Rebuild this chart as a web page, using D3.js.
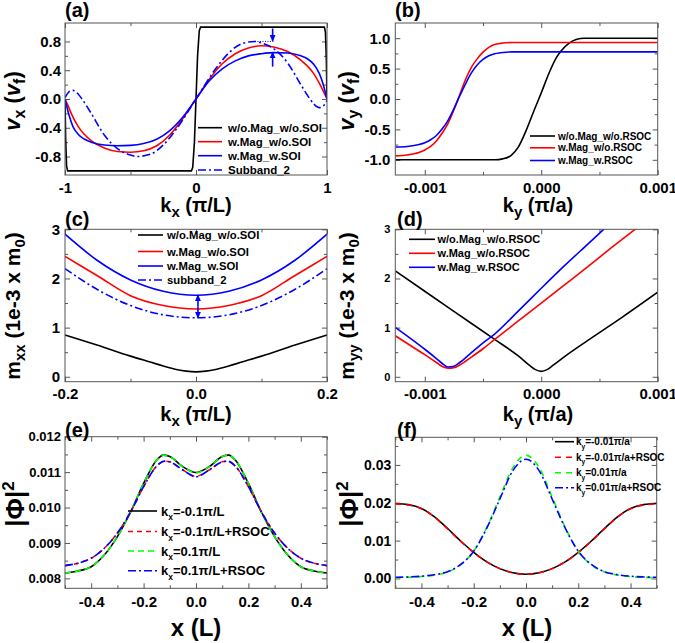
<!DOCTYPE html>
<html><head><meta charset="utf-8">
<script src="https://cdn.jsdelivr.net/npm/d3@7"></script>
<style>
body{margin:0;background:#fff}
svg{font-family:"Liberation Sans",Arial,sans-serif;font-weight:bold}
</style>
</head><body>
<svg id="c" width="675" height="643"></svg>
<script>
// ---------- DATA ----------
// (a) v_x vs k_x
const aXTicks = [-1, 0, 1], aXMinor = [-0.5, 0.5];
const aYTicks = [-0.8, -0.4, 0, 0.4, 0.8], aYMinor = [-0.6, -0.2, 0.2, 0.6];
const aBlack = [[-1,0],[-0.995,-0.55],[-0.988,-0.93],[-0.98,-1],[-0.035,-1],[-0.025,-0.95],[-0.012,-0.6],[0,0],[0.012,0.6],[0.025,0.95],[0.035,1],[0.98,1],[0.988,0.93],[0.995,0.55],[1,0]];
const aRed = [[-1,0],[-0.975,-0.1],[-0.95,-0.21],[-0.9,-0.38],[-0.8,-0.58],[-0.7,-0.68],[-0.6,-0.73],[-0.5,-0.74],[-0.4,-0.72],[-0.3,-0.65],[-0.2,-0.5],[-0.1,-0.27],[0,0],[0.1,0.27],[0.2,0.49],[0.3,0.63],[0.4,0.71],[0.5,0.74],[0.6,0.72],[0.7,0.66],[0.8,0.54],[0.9,0.35],[0.95,0.19],[1,0]];
const aBlue = [[-1,0],[-0.97,-0.22],[-0.94,-0.38],[-0.9,-0.49],[-0.85,-0.56],[-0.8,-0.6],[-0.7,-0.64],[-0.6,-0.65],[-0.5,-0.645],[-0.4,-0.62],[-0.3,-0.56],[-0.2,-0.44],[-0.1,-0.25],[0,0],[0.1,0.25],[0.2,0.42],[0.3,0.53],[0.4,0.6],[0.5,0.63],[0.6,0.645],[0.7,0.64],[0.8,0.6],[0.85,0.56],[0.9,0.48],[0.94,0.36],[0.97,0.21],[1,0]];
const aSub2 = [[-1,0.02],[-0.97,0.1],[-0.94,0.12],[-0.9,0.07],[-0.87,0],[-0.8,-0.2],[-0.7,-0.5],[-0.6,-0.69],[-0.5,-0.78],[-0.45,-0.8],[-0.35,-0.77],[-0.25,-0.64],[-0.15,-0.42],[0,0],[0.15,0.42],[0.25,0.64],[0.35,0.77],[0.45,0.8],[0.5,0.78],[0.6,0.69],[0.7,0.5],[0.8,0.2],[0.87,0],[0.9,-0.07],[0.94,-0.12],[0.97,-0.1],[1,-0.02]];
const aArrowK = 0.585, aArrowDown = [0.98, 0.81], aArrowUp = [0.45, 0.65], aDotted = [[0.45,0.8],[0.6,0.8]];
const aLegend = ["w/o.Mag_w/o.SOI","w.Mag_w/o.SOI","w.Mag_w.SOI","Subband_2"];

// (b) v_y vs k_y
const bXTicks = [-0.001, 0, 0.001], bXMinor = [-0.0005, 0.0005];
const bYTicks = [-1, -0.5, 0, 0.5, 1], bYMinor = [-0.75, -0.25, 0.25, 0.75];
const bBlack = [[-0.00125,-1],[-0.0004,-1],[-0.00033,-0.985],[-0.00026,-0.93],[-0.0002,-0.8],[-0.00013,-0.52],[-0.00006,-0.18],[0,0.1],[0.00007,0.44],[0.00013,0.68],[0.00017,0.79],[0.00024,0.92],[0.0003,0.98],[0.00037,1],[0.001,1]];
const bRed = [[-0.00125,-0.935],[-0.00115,-0.92],[-0.00105,-0.88],[-0.001,-0.84],[-0.00095,-0.78],[-0.0009,-0.69],[-0.00085,-0.56],[-0.0008,-0.4],[-0.00075,-0.18],[-0.0007,0.07],[-0.00065,0.32],[-0.0006,0.52],[-0.00055,0.66],[-0.0005,0.77],[-0.00045,0.85],[-0.0004,0.895],[-0.00035,0.915],[-0.0003,0.925],[-0.00025,0.93],[0.001,0.93]];
const bBlue = [[-0.00125,-0.79],[-0.00115,-0.78],[-0.00105,-0.75],[-0.001,-0.72],[-0.00095,-0.67],[-0.0009,-0.6],[-0.00085,-0.49],[-0.0008,-0.35],[-0.00075,-0.16],[-0.0007,0.05],[-0.00065,0.25],[-0.0006,0.43],[-0.00055,0.56],[-0.0005,0.65],[-0.00045,0.71],[-0.0004,0.745],[-0.00035,0.76],[-0.0003,0.77],[-0.00025,0.775],[0.001,0.775]];
const bLegend = ["w/o.Mag_w/o.RSOC","w.Mag_w/o.RSOC","w.Mag_w.RSOC"];

// (c) m_xx vs k_x
const cXTicks = [-0.2, 0, 0.2], cXMinor = [-0.1, 0.1];
const cYTicks = [0, 1, 2, 3], cYMinor = [0.5, 1.5, 2.5];
const cBlack = [[-0.2,0.85],[-0.15,0.64],[-0.1,0.42],[-0.07,0.3],[-0.05,0.22],[-0.03,0.15],[-0.015,0.115],[0,0.1],[0.015,0.115],[0.03,0.15],[0.05,0.22],[0.07,0.3],[0.1,0.42],[0.15,0.64],[0.2,0.85]];
const cRed = [[-0.2,2.45],[-0.15,2.05],[-0.1,1.65],[-0.05,1.45],[0,1.38],[0.05,1.45],[0.1,1.65],[0.15,2.05],[0.2,2.45]];
const cBlue = [[-0.2,2.9],[-0.15,2.36],[-0.1,1.97],[-0.05,1.74],[0,1.66],[0.05,1.74],[0.1,1.97],[0.15,2.36],[0.2,2.9]];
const cSub2 = [[-0.2,2.2],[-0.15,1.77],[-0.1,1.45],[-0.05,1.26],[0,1.2],[0.05,1.26],[0.1,1.45],[0.15,1.77],[0.2,2.2]];
const cArrowK = 0.003, cArrowRange = [1.66, 1.2];
const cLegend = ["w/o.Mag_w/o.SOI","w.Mag_w/o.SOI","w.Mag_w.SOI","subband_2"];

// (d) m_yy vs k_y
const dXTicks = [-0.001, 0, 0.001], dXMinor = [-0.0005, 0.0005];
const dYTicks = [0, 1, 2, 3], dYMinor = [0.5, 1.5, 2.5];
const dBlack = [[-0.00125,2.15],[-0.001,1.74],[-0.0007,1.25],[-0.0004,0.76],[-0.0002,0.43],[-0.0001,0.23],[-0.00005,0.145],[0,0.11],[0.00005,0.145],[0.0001,0.23],[0.0002,0.41],[0.0004,0.74],[0.0007,1.22],[0.001,1.72]];
const dRed = [[-0.00125,0.83],[-0.0011,0.6],[-0.001,0.45],[-0.0009,0.29],[-0.00085,0.21],[-0.0008,0.175],[-0.00075,0.185],[-0.0007,0.24],[-0.0006,0.4],[-0.0005,0.57],[-0.0004,0.76],[-0.0002,1.13],[0,1.5],[0.0002,1.87],[0.0004,2.24],[0.0006,2.62],[0.0008,2.99],[0.00085,3.08]];
const dBlue = [[-0.00125,1.0],[-0.0011,0.74],[-0.001,0.56],[-0.0009,0.37],[-0.00085,0.27],[-0.0008,0.2],[-0.00075,0.215],[-0.0007,0.29],[-0.0006,0.49],[-0.0005,0.69],[-0.0004,0.87],[-0.0002,1.33],[0,1.8],[0.0002,2.26],[0.0004,2.7],[0.00055,3.03]];
const dLegend = ["w/o.Mag_w/o.RSOC","w.Mag_w/o.RSOC","w.Mag_w.RSOC"];

// (e) |Phi|^2 vs x, k_x
const eXTicks = [-0.4, -0.2, 0, 0.2, 0.4], eXMinor = [-0.5, -0.3, -0.1, 0.1, 0.3, 0.5];
const eYTicks = [0.008, 0.009, 0.01, 0.011, 0.012], eYMinor = [0.0085, 0.0095, 0.0105, 0.0115];
const eX1 = [-0.5,-0.45,-0.4,-0.35,-0.3,-0.25,-0.2,-0.15,-0.125,-0.1,-0.05,0,0.05,0.1,0.125,0.15,0.2,0.25,0.3,0.35,0.4,0.45,0.5];
const eBlackY = [0.00815,0.00821,0.00833,0.00866,0.00918,0.00987,0.01068,0.01134,0.01148,0.01144,0.01115,0.01099,0.01115,0.01144,0.01148,0.01134,0.01068,0.00987,0.00918,0.00866,0.00833,0.00821,0.00815];
const eGreenY = [0.00815,0.00821,0.00833,0.00866,0.00918,0.00987,0.01068,0.01134,0.01148,0.01144,0.01115,0.01098,0.01115,0.01144,0.01148,0.01134,0.01068,0.00987,0.00918,0.00866,0.00833,0.00821,0.00815];
const eX2 = [-0.5,-0.45,-0.4,-0.35,-0.3,-0.25,-0.2,-0.15,-0.12,-0.1,-0.05,0,0.05,0.1,0.12,0.15,0.2,0.25,0.3,0.35,0.4,0.45,0.5];
const eRedY = [0.00836,0.00843,0.00857,0.00885,0.00928,0.00987,0.01059,0.01117,0.01131,0.01129,0.01106,0.01088,0.01106,0.01129,0.01131,0.01117,0.01059,0.00987,0.00928,0.00885,0.00857,0.00843,0.00836];
const eBlueY = [0.00836,0.00843,0.00857,0.00885,0.00928,0.00987,0.01059,0.01117,0.01131,0.01129,0.01106,0.01087,0.01106,0.01129,0.01131,0.01117,0.01059,0.00987,0.00928,0.00885,0.00857,0.00843,0.00836];
const eLegend = ["=-0.1\u03c0/L","=-0.1\u03c0/L+RSOC","=0.1\u03c0/L","=0.1\u03c0/L+RSOC"];

// (f) |Phi|^2 vs x, k_y
const fXTicks = [-0.4, -0.2, 0, 0.2, 0.4], fXMinor = [-0.5, -0.3, -0.1, 0.1, 0.3, 0.5];
const fYTicks = [0, 0.01, 0.02, 0.03], fYMinor = [0.005, 0.015, 0.025, 0.035];
const fX = [-0.5,-0.45,-0.4,-0.35,-0.3,-0.25,-0.2,-0.15,-0.1,-0.05,0,0.05,0.1,0.15,0.2,0.25,0.3,0.35,0.4,0.45,0.5];
const fBlackY = [0.0198,0.0195,0.0185,0.0163,0.0132,0.0099,0.0069,0.0044,0.0026,0.0015,0.0011,0.0015,0.0026,0.0044,0.0069,0.0099,0.0132,0.0163,0.0185,0.0195,0.0198];
const fRedY = [0.0197,0.0194,0.0184,0.0162,0.0131,0.0098,0.0068,0.0044,0.0026,0.0015,0.0011,0.0015,0.0026,0.0044,0.0068,0.0098,0.0131,0.0162,0.0184,0.0194,0.0197];
const fGreenY = [0.0002,0.0003,0.0005,0.0009,0.0017,0.0036,0.0072,0.0135,0.0215,0.0293,0.0326,0.0293,0.0215,0.0135,0.0072,0.0036,0.0017,0.0009,0.0005,0.0003,0.0002];
const fBlueY = [0.0003,0.0004,0.0006,0.001,0.0018,0.0037,0.0072,0.0133,0.021,0.0285,0.0315,0.0285,0.021,0.0133,0.0072,0.0037,0.0018,0.001,0.0006,0.0004,0.0003];
const fLegend = ["=-0.01\u03c0/a","=-0.01\u03c0/a+RSOC","=0.01\u03c0/a","=0.01\u03c0/a+RSOC"];

const zip = (xs, ys) => xs.map((v, i) => [v, ys[i]]);

// ---------- DRAWING ----------
const svg = d3.select("#c");
const defs = svg.append("defs");
defs.append("marker").attr("id","arr").attr("viewBox","0 0 8 8").attr("refX",7).attr("refY",4)
  .attr("markerWidth",7).attr("markerHeight",7).attr("markerUnits","userSpaceOnUse").attr("orient","auto")
  .append("path").attr("d","M0,0.5 L8,4 L0,7.5 z").attr("fill","#00f");
const FRAME = "#555";
const minus = s => s.replace("\u2212","-");

function panel(o){
  const x = d3.scaleLinear().domain(o.xd).range([o.L, o.R]);
  const y = d3.scaleLinear().domain(o.yd).range([o.B, o.T]);
  const g = svg.append("g");
  defs.append("clipPath").attr("id","clip"+o.name).append("rect")
    .attr("x",o.L).attr("y",o.T).attr("width",o.R-o.L).attr("height",o.B-o.T);
  function ax(axis, tr, vals, size, fmt, pad, fs){
    const a = g.append("g").attr("transform",tr)
      .call(axis.tickValues(vals).tickSizeInner(size).tickSizeOuter(0).tickPadding(pad).tickFormat(fmt));
    a.select(".domain").remove();
    a.attr("font-family",null).attr("font-size",fs);
    a.selectAll("line").attr("stroke",FRAME);
    a.selectAll("text").attr("fill","#000").attr("font-weight","bold");
  }
  const xf = d => minus(d3.format(o.xfmt)(d)), yf = d => minus(d3.format(o.yfmt)(d));
  ax(d3.axisBottom(x), `translate(0,${o.B})`, o.xt, -5, xf, o.xpad, o.xfs);
  ax(d3.axisBottom(x), `translate(0,${o.B})`, o.xm, -3, "", 0, 1);
  ax(d3.axisTop(x), `translate(0,${o.T})`, o.xt, -5, "", 0, 1);
  ax(d3.axisTop(x), `translate(0,${o.T})`, o.xm, -3, "", 0, 1);
  ax(d3.axisLeft(y), `translate(${o.L},0)`, o.yt, -5, yf, o.ypad, o.yfs);
  ax(d3.axisLeft(y), `translate(${o.L},0)`, o.ym, -3, "", 0, 1);
  ax(d3.axisRight(y), `translate(${o.R},0)`, o.yt, -5, "", 0, 1);
  ax(d3.axisRight(y), `translate(${o.R},0)`, o.ym, -3, "", 0, 1);
  const cg = g.append("g").attr("clip-path",`url(#clip${o.name})`);
  o.series.forEach(s => {
    const line = d3.line().x(d => x(d[0])).y(d => y(d[1])).curve(s.linear ? d3.curveLinear : d3.curveMonotoneX);
    cg.append("path").attr("d", line(s.data)).attr("fill","none").attr("stroke", s.color)
      .attr("stroke-width", s.w || 1.6).attr("stroke-dasharray", s.dash || null);
  });
  g.append("rect").attr("x",o.L).attr("y",o.T).attr("width",o.R-o.L).attr("height",o.B-o.T)
    .attr("fill","none").attr("stroke",FRAME).attr("stroke-width",1);
  return {x, y, g, cg};
}

function legend(items, lx0, lx1, tx, ys, fs, sub){
  const lg = svg.append("g");
  items.forEach((it, i) => {
    lg.append("line").attr("x1",lx0).attr("x2",lx1).attr("y1",ys[i]).attr("y2",ys[i])
      .attr("stroke",it.color).attr("stroke-width",1.6).attr("stroke-dasharray",it.dash || null);
    const t = lg.append("text").attr("x",tx).attr("y",ys[i] + fs*0.36).attr("font-size",fs);
    if (sub) {
      t.append("tspan").text("k");
      t.append("tspan").attr("dy", fs*0.35).attr("font-size", fs*0.65).text(sub);
      t.append("tspan").attr("dy", -fs*0.35).text(it.label);
    } else t.text(it.label);
  });
}

function ytitle(cx, cy, parts, fs){
  const t = svg.append("text").attr("transform",`translate(${cx},${cy}) rotate(-90)`)
    .attr("text-anchor","middle").attr("font-size",fs);
  parts.forEach(p => {
    const s = t.append("tspan").text(p.t);
    if (p.dy) s.attr("dy", p.dy);
    if (p.fs) s.attr("font-size", p.fs);
    if (p.it) s.attr("font-style","italic");
  });
}
function htitle(cx, cy, parts, fs){
  const t = svg.append("text").attr("x",cx).attr("y",cy).attr("text-anchor","middle").attr("font-size",fs);
  parts.forEach(p => {
    const s = t.append("tspan").text(p.t);
    if (p.dy) s.attr("dy", p.dy);
    if (p.fs) s.attr("font-size", p.fs);
  });
}
function plabel(x, y, s){ svg.append("text").attr("x",x).attr("y",y).attr("font-size",20).text(s); }

const DD = "8,3,2,3";

// ----- (a)
const pa = panel({name:"a", L:65, R:327, T:23, B:175, xd:[-1,1], yd:[-1.057,1.057],
  xt:aXTicks, xm:aXMinor, yt:aYTicks, ym:aYMinor, xfmt:"d", yfmt:".1f", xpad:7, ypad:4, xfs:15, yfs:15,
  series:[{data:aBlack,color:"#000",linear:true},{data:aRed,color:"#f00"},{data:aBlue,color:"#00f"},{data:aSub2,color:"#00f",dash:DD}]});
pa.g.append("path").attr("d", d3.line().x(d=>pa.x(d[0])).y(d=>pa.y(d[1]))(aDotted))
  .attr("stroke","#00f").attr("stroke-width",1).attr("stroke-dasharray","1,1.5").attr("fill","none");
[aArrowDown, aArrowUp].forEach(r => pa.g.append("line").attr("x1",pa.x(aArrowK)).attr("x2",pa.x(aArrowK))
  .attr("y1",pa.y(r[0])).attr("y2",pa.y(r[1])).attr("stroke","#00f").attr("stroke-width",1.6).attr("marker-end","url(#arr)"));
legend([{color:"#000"},{color:"#f00"},{color:"#00f"},{color:"#00f",dash:DD}].map((d,i)=>({...d,label:aLegend[i]})),
  198, 222, 228, [127.7,141.7,155.7,170], 11.5);
plabel(65, 17, "(a)");
ytitle(20, 101, [{t:"v",it:1},{t:"x",dy:5,fs:16},{t:" (",dy:-5},{t:"v",it:1},{t:"f",dy:5,fs:16},{t:")",dy:-5}], 22);
htitle(196, 212, [{t:"k"},{t:"x",dy:5,fs:15},{t:" (\u03c0/L)",dy:-5}], 20);

// ----- (b)
const pb = panel({name:"b", L:395.3, R:657.7, T:23, B:175, xd:[-0.001253,0.001], yd:[-1.25,1.25],
  xt:bXTicks, xm:bXMinor, yt:bYTicks, ym:bYMinor, xfmt:".3f", yfmt:".1f", xpad:7, ypad:5, xfs:15, yfs:15,
  series:[{data:bBlack,color:"#000"},{data:bRed,color:"#f00"},{data:bBlue,color:"#00f"}]});
legend([{color:"#000"},{color:"#f00"},{color:"#00f"}].map((d,i)=>({...d,label:bLegend[i]})),
  530, 555, 558, [136,147.8,160.5], 10);
plabel(395, 17, "(b)");
ytitle(354, 101, [{t:"v",it:1},{t:"y",dy:5,fs:16},{t:" (",dy:-5},{t:"v",it:1},{t:"f",dy:5,fs:16},{t:")",dy:-5}], 22);
htitle(538, 212, [{t:"k"},{t:"y",dy:5,fs:15},{t:" (\u03c0/a)",dy:-5}], 20);

// ----- (c)
const pc = panel({name:"c", L:65, R:327, T:229.3, B:381.7, xd:[-0.2,0.2], yd:[-0.1,3],
  xt:cXTicks, xm:cXMinor, yt:cYTicks, ym:cYMinor, xfmt:".1f", yfmt:"d", xpad:7, ypad:5, xfs:15, yfs:15,
  series:[{data:cBlack,color:"#000"},{data:cRed,color:"#f00"},{data:cBlue,color:"#00f"},{data:cSub2,color:"#00f",dash:DD}]});
pc.g.append("line").attr("x1",pc.x(cArrowK)).attr("x2",pc.x(cArrowK))
  .attr("y1",pc.y(d3.mean(cArrowRange))).attr("y2",pc.y(cArrowRange[0])).attr("stroke","#00f").attr("stroke-width",1.6).attr("marker-end","url(#arr)");
pc.g.append("line").attr("x1",pc.x(cArrowK)).attr("x2",pc.x(cArrowK))
  .attr("y1",pc.y(d3.mean(cArrowRange))).attr("y2",pc.y(cArrowRange[1])).attr("stroke","#00f").attr("stroke-width",1.6).attr("marker-end","url(#arr)");
legend([{color:"#000"},{color:"#f00"},{color:"#00f"},{color:"#00f",dash:DD}].map((d,i)=>({...d,label:cLegend[i]})),
  138, 163, 167, [235,251.5,266,280], 11.3);
plabel(65, 226, "(c)");
ytitle(20, 306, [{t:"m"},{t:"xx",dy:5,fs:15},{t:" (1e-3 x m",dy:-5},{t:"0",dy:5,fs:15},{t:")",dy:-5}], 21);
htitle(196, 421, [{t:"k"},{t:"x",dy:5,fs:15},{t:" (\u03c0/L)",dy:-5}], 20);

// ----- (d)
const pd = panel({name:"d", L:395.3, R:657.7, T:229.3, B:381.7, xd:[-0.001253,0.001], yd:[-0.1,3],
  xt:dXTicks, xm:dXMinor, yt:dYTicks, ym:dYMinor, xfmt:".3f", yfmt:"d", xpad:7, ypad:5, xfs:15, yfs:11,
  series:[{data:dBlack,color:"#000"},{data:dRed,color:"#f00"},{data:dBlue,color:"#00f"}]});
legend([{color:"#000"},{color:"#f00"},{color:"#00f"}].map((d,i)=>({...d,label:dLegend[i]})),
  409, 435, 437.5, [239.3,253.3,267.3], 11);
plabel(397, 226, "(d)");
ytitle(354, 306, [{t:"m"},{t:"yy",dy:5,fs:15},{t:" (1e-3 x m",dy:-5},{t:"0",dy:5,fs:15},{t:")",dy:-5}], 21);
htitle(538, 421, [{t:"k"},{t:"y",dy:5,fs:15},{t:" (\u03c0/a)",dy:-5}], 20);

// ----- (e)
const pe = panel({name:"e", L:65, R:327, T:436.7, B:588.3, xd:[-0.5,0.5], yd:[0.00772,0.012],
  xt:eXTicks, xm:eXMinor, yt:eYTicks, ym:eYMinor, xfmt:".1f", yfmt:".3f", xpad:8, ypad:4, xfs:15, yfs:13,
  series:[{data:zip(eX1,eBlackY),color:"#000"},{data:zip(eX1,eGreenY),color:"#0f0",dash:"6,4"},
          {data:zip(eX2,eRedY),color:"#f00",dash:"5,4"},{data:zip(eX2,eBlueY),color:"#00f",dash:DD}]});
legend([{color:"#000"},{color:"#f00",dash:"5,4"},{color:"#0f0",dash:"6,4"},{color:"#00f",dash:DD}].map((d,i)=>({...d,label:eLegend[i]})),
  128, 157, 161, [511,531.5,551,570.7], 13, "x");
plabel(65, 437, "(e)");
ytitle(24, 504, [{t:"|\u03a6|"},{t:"2",dy:-10,fs:17}], 26);
htitle(196, 636, [{t:"x (L)"}], 24);

// ----- (f)
const pf = panel({name:"f", L:395.3, R:656.7, T:437.3, B:588.3, xd:[-0.5,0.5], yd:[-0.0026,0.0373],
  xt:fXTicks, xm:fXMinor, yt:fYTicks, ym:fYMinor, xfmt:".1f", yfmt:".2f", xpad:8, ypad:4, xfs:15, yfs:14,
  series:[{data:zip(fX,fBlackY),color:"#000"},{data:zip(fX,fRedY),color:"#f00",dash:"6,5"},
          {data:zip(fX,fGreenY),color:"#0f0",dash:"6,5"},{data:zip(fX,fBlueY),color:"#00f",dash:DD}]});
legend([{color:"#000"},{color:"#f00",dash:"6,5"},{color:"#0f0",dash:"6,5"},{color:"#00f",dash:DD}].map((d,i)=>({...d,label:fLegend[i]})),
  555, 574, 576, [441.7,457.3,472.7,487.7], 10, "y");
plabel(397, 437, "(f)");
ytitle(358, 504, [{t:"|\u03a6|"},{t:"2",dy:-10,fs:17}], 26);
htitle(527, 636, [{t:"x (L)"}], 24);
</script>
</body></html>
